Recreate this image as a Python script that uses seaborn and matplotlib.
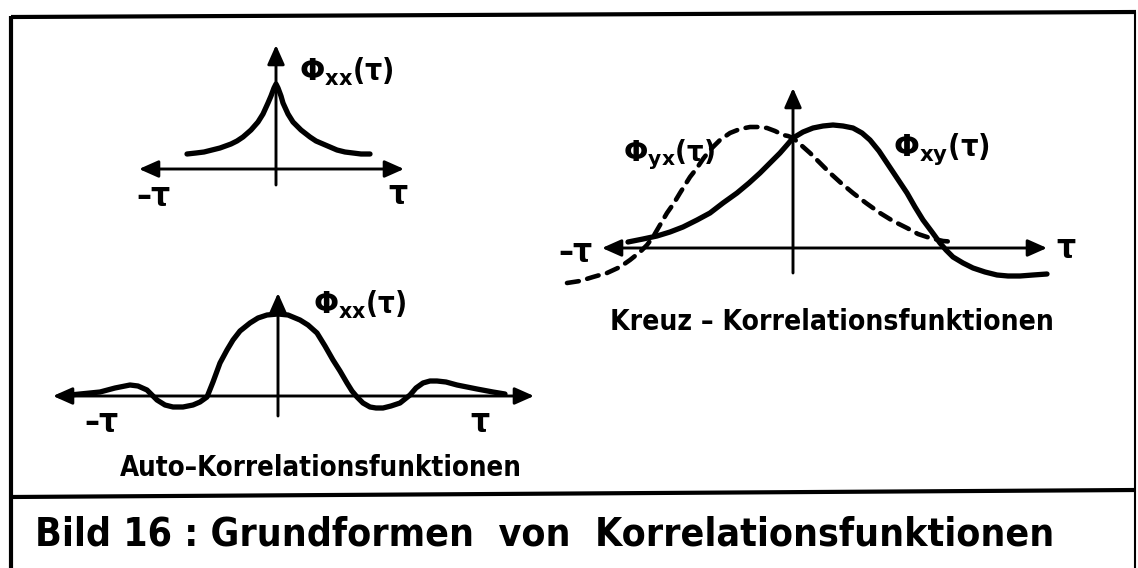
import matplotlib
matplotlib.use("Agg")
import matplotlib.pyplot as plt
import seaborn as sns

sns.set_theme(style="white")
plt.rcParams['font.family'] = ['DejaVu Sans']
plt.rcParams['mathtext.fontset'] = 'dejavusans'

# ---------------- data (tau/phi in panel units) -------------
# Panel 1: exponential-type auto correlation
tau_exp = [-89, -80, -72, -64, -56, -45, -39, -33, -25, -18, -13, -8, -5, -2, 0,
           2, 5, 7, 12, 17, 25, 34, 40, 47, 54, 61, 69, 77, 85, 94]
phi_exp = [15, 16, 17, 19, 21, 25, 28, 32, 39, 47, 55, 66, 73, 81, 85,
           81, 73, 66, 55, 47, 39, 32, 28, 25, 22, 19, 17, 16, 15, 15]

# Panel 2: oscillating auto correlation
tau_osc = [-218, -198, -178, -163, -148, -140, -131, -121, -113, -105, -95, -85, -78, -71,
           -65, -58, -51, -45, -38, -28, -20, -11, 0, 10, 22, 30, 39, 47, 55, 62, 69, 74,
           79, 85, 92, 98, 105, 113, 122, 127, 132, 138, 145, 152, 159, 168, 179, 199,
           215, 227]
phi_osc = [0, 2, 4, 8, 11, 10, 6, -4, -9, -11, -11, -9, -6, -1,
           14, 33, 46, 56, 65, 73, 78, 81, 82, 81, 76, 71, 63, 50, 36, 25, 13, 5,
           -1, -7, -11, -12, -12, -10, -7, -3, 1, 8, 13, 15, 15, 14, 11, 7,
           4, 2]

# Panel 3: cross correlations
tau_xy = [-165, -150, -136, -123, -110, -96, -83, -70, -56, -44, -33, -23, -13, -6, 0,
          10, 20, 30, 40, 50, 60, 69, 77, 86, 94, 104, 114, 122, 130, 139, 147, 153,
          160, 170, 180, 192, 204, 215, 227, 240, 254]
phi_xy = [6, 9, 12, 16, 21, 28, 35, 45, 55, 65, 75, 85, 95, 103, 110,
          116, 120, 122, 123, 122, 120, 115, 108, 97, 85, 70, 55, 41, 28, 16, 5, -2,
          -9, -15, -20, -24, -27, -28, -28, -27, -26]
tau_yx = [-226, -213, -200, -186, -173, -163, -153, -146, -140, -133, -126, -119, -113,
          -108, -103, -96, -90, -83, -73, -63, -53, -43, -35, -26, -18, -10, -5, 0,
          8, 17, 27, 37, 48, 60, 73, 87, 100, 114, 125, 137, 150, 162]
phi_yx = [-35, -33, -29, -25, -19, -12, -4, 3, 11, 23, 35, 45, 55,
          63, 71, 80, 89, 98, 108, 115, 119, 121, 121, 120, 117, 113, 112, 110,
          103, 95, 85, 75, 65, 55, 45, 35, 27, 20, 14, 10, 7, 6]

label_xx = r"$\mathbf{\Phi_{xx}}$(τ)"
label_xy = r"$\mathbf{\Phi_{xy}}$(τ)"
label_yx = r"$\mathbf{\Phi_{yx}}$(τ)"
neg_tau = "–τ"
pos_tau = "τ"
title_auto = "Auto–Korrelationsfunktionen"
title_cross = "Kreuz – Korrelationsfunktionen"
caption = "Bild 16 : Grundformen  von  Korrelationsfunktionen"

# ---------------- layout ---------------------------------------------------------
W, H, DPI = 1138, 568, 100
fig = plt.figure(figsize=(W / DPI, H / DPI), dpi=DPI)
fig.patch.set_facecolor('white')

bg = fig.add_axes([0, 0, 1, 1])
bg.set_xlim(0, W)
bg.set_ylim(H, 0)
bg.axis('off')

# frame
frame_kw = dict(color='black', lw=3.0, solid_capstyle='butt')
bg.plot([11, 11], [16, 568], **frame_kw)
bg.plot([11, 1136], [17, 12], **frame_kw)
bg.plot([1135, 1135], [12, 568], lw=1.5, color='black')
bg.plot([11, 1136], [497, 490], **frame_kw)

CURVE_LW = 3.8
AXIS_LW = 2.1


def panel(ox, oy, left, right, top, bottom):
    ax = fig.add_axes([left / W, 1 - bottom / H, (right - left) / W, (bottom - top) / H])
    ax.set_xlim(left - ox, right - ox)
    ax.set_ylim(oy - bottom, oy - top)
    ax.axis('off')
    ax.patch.set_alpha(0)
    return ax


def axes_arrows(ax, xmin, xmax, ybot, ytop):
    head = dict(color='black', lw=AXIS_LW, shrinkA=0, shrinkB=0, mutation_scale=13)
    ax.annotate('', xy=(xmax, 0), xytext=(xmin, 0),
                arrowprops=dict(arrowstyle='<|-|>,head_length=0.9,head_width=0.4', **head))
    ax.annotate('', xy=(0, ytop), xytext=(0, ybot),
                arrowprops=dict(arrowstyle='-|>,head_length=0.9,head_width=0.4', **head))


line_kw = dict(color='black', estimator=None, sort=False)

# Panel 1
ax1 = panel(276, 169, 110, 430, 30, 210)
axes_arrows(ax1, -137, 128, -16, 124)
sns.lineplot(x=tau_exp, y=phi_exp, ax=ax1, lw=CURVE_LW, solid_capstyle='round',
             solid_joinstyle='round', **line_kw)

# Panel 2
ax2 = panel(278, 396, 40, 560, 280, 440)
axes_arrows(ax2, -225, 256, -20, 103)
sns.lineplot(x=tau_osc, y=phi_osc, ax=ax2, lw=CURVE_LW, solid_capstyle='round',
             solid_joinstyle='round', **line_kw)

# Panel 3
ax3 = panel(793, 248, 550, 1070, 75, 300)
axes_arrows(ax3, -191, 254, -25, 160)
sns.lineplot(x=tau_xy, y=phi_xy, ax=ax3, lw=CURVE_LW, solid_capstyle='round',
             solid_joinstyle='round', **line_kw)
sns.lineplot(x=tau_yx, y=phi_yx, ax=ax3, lw=CURVE_LW - 0.5,
             linestyle=(0, (2.6, 1.9)), dash_capstyle='round', **line_kw)

# ---------------- text -----------------------------------------------------------
renderer = fig.canvas.get_renderer()


def fit_text(x0, x1, yc, s, **kw):
    t = bg.text(x0, yc, s, ha='left', va='center', fontsize=20, color='black', **kw)
    w = t.get_window_extent(renderer).width
    t.set_fontsize(20 * (x1 - x0) / w)
    return t


txt_kw = dict(fontstretch='condensed', fontweight='bold')
fit_text(35, 1055, 535, caption, **txt_kw)
fit_text(120, 523, 468, title_auto, **txt_kw)
fit_text(610, 1055, 322, title_cross, **txt_kw)

fit_text(299, 394, 72, label_xx, **txt_kw)
fit_text(313, 407, 305, label_xx, **txt_kw)
fit_text(623, 715, 155, label_yx, **txt_kw)
fit_text(893, 990, 149, label_xy, **txt_kw)

tau_kw = dict(fontsize=24, color='black', ha='center', va='center',
              fontweight='bold', fontstretch='condensed')
bg.text(153, 196, neg_tau, **tau_kw)
bg.text(398, 195, pos_tau, **tau_kw)
bg.text(101, 423, neg_tau, **tau_kw)
bg.text(480, 423, pos_tau, **tau_kw)
bg.text(575, 252, neg_tau, **tau_kw)
bg.text(1066, 248, pos_tau, **tau_kw)

fig.savefig("out.png", dpi=DPI, facecolor='white')
